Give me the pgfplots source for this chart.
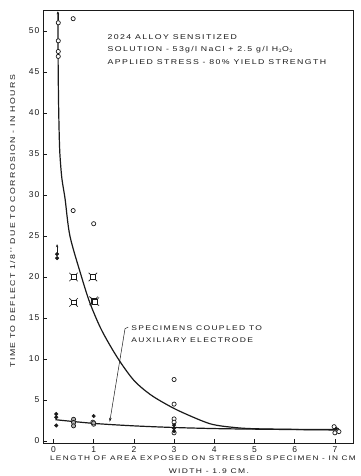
\documentclass[border=0pt]{standalone}
\usepackage{pgfplots}
\pgfplotsset{compat=1.18}
\usepackage{fontspec}
\setmainfont{Liberation Sans}
\newfontfamily\lab[FakeStretch=1.25, LetterSpace=20]{Liberation Sans}
\newfontfamily\tk[LetterSpace=12]{Liberation Sans}
\usetikzlibrary{arrows.meta}
\definecolor{ink}{HTML}{1A1A1A}
\begin{document}
\begin{tikzpicture}
\begin{axis}[
  scale only axis, width=310pt, height=433pt,
  xmin=-0.26, xmax=7.45, ymin=-0.24, ymax=52.56,
  xtick={0,...,7}, ytick={0,5,...,50},
  xtick pos=bottom, ytick pos=left,
  tick align=inside,
  major tick length=4.5pt,
  tick style={ink, line width=0.6pt},
  axis line style={ink, line width=0.8pt},
  ticklabel style={font=\tk\fontsize{8.5}{10}\selectfont, text=ink},
  x tick label style={yshift=-0.5pt},
  /pgf/number format/assume math mode=true,
  clip=false,
]
% upper curve
\addplot[ink, line width=1.2pt, smooth, tension=0.5] coordinates {
 (0.11,52.3) (0.115,47) (0.125,42) (0.14,38) (0.16,35) (0.21,32) (0.29,29.5)
 (0.41,25) (0.70,20) (0.91,16.8) (1.2,13.5) (1.6,10.1) (2.0,7.4) (2.4,5.7)
 (2.8,4.5) (3.2,3.5) (3.9,2.1) (4.5,1.65) (5,1.5) (6,1.42) (7,1.4)};
% lower curve
\addplot[ink, line width=1.2pt, smooth] coordinates {
 (0.05,2.6) (1,2.15) (2,1.85) (3,1.65) (4,1.52) (5,1.45) (7,1.35)};
% open circles
\addplot[only marks, mark=*, mark size=2.1pt, mark options={draw=ink, fill=white, line width=0.7pt}] coordinates {
 (0.12,51.0) (0.12,48.8) (0.12,47.5) (0.12,46.9) (0.49,51.5) (0.49,28.1) (1.0,26.5)
 (3.0,7.5) (3.0,4.5) (3.0,2.7) (3.0,2.3) (3.0,1.0)
 (6.98,1.75) (7.05,1.35) (7.0,1.0) (7.1,1.15) (0.98,2.3) (1.0,2.05)};
% gray circles
\addplot[only marks, mark=*, mark size=2.1pt, mark options={draw=ink, fill=gray!60, line width=0.7pt}] coordinates {
 (0.5,2.65) (0.5,2.25) (0.5,1.85) (1.0,2.2)};
% filled dots
\addplot[only marks, mark=*, mark size=1.8pt, mark options={draw=ink, fill=ink}] coordinates {
 (0.09,22.3) (0.09,22.8) (0.07,3.3) (0.07,2.9) (0.07,1.9) (1.0,3.05)
 (3.0,1.95) (3.0,1.55) (3.0,1.2) (7.03,1.5)};
% crossed squares: corner ticks then square on top
\addplot[only marks, mark=x, mark size=6pt, mark options={draw=ink, line width=0.6pt}] coordinates {
 (0.5,20) (0.5,16.9) (0.98,20) (1.0,17.1) (1.03,17.0)};
\addplot[only marks, mark=square*, mark size=2.4pt, mark options={draw=ink, fill=white, line width=0.7pt}] coordinates {
 (0.5,20) (0.5,16.9) (0.98,20) (1.0,17.1) (1.03,17.0)};
% run-out arrows
\addplot[ink, line width=0.7pt, -{Stealth[length=3pt,width=2.5pt]}, quiver={u=\thisrow{u}, v=\thisrow{v}}] table {
x y u v
0.11 51.4 0 1.0
0.09 22.9 0 1.1
};
% texts
\node[anchor=west, font=\lab\fontsize{7}{8}\selectfont, text=ink] at (axis cs:1.26,49.3) {2024 ALLOY SENSITIZED};
\node[anchor=west, font=\lab\fontsize{7}{8}\selectfont, text=ink] at (axis cs:1.26,47.7) {SOLUTION - 53\,g/l NaCl + 2.5 g/l H$_2$O$_2$};
\node[anchor=west, font=\lab\fontsize{7}{8}\selectfont, text=ink] at (axis cs:1.26,46.2) {APPLIED STRESS - 80\% YIELD STRENGTH};
\node[anchor=west, font=\lab\fontsize{6.8}{8}\selectfont, text=ink] at (axis cs:1.85,13.8) {SPECIMENS COUPLED TO};
\node[anchor=west, font=\lab\fontsize{6.8}{8}\selectfont, text=ink] at (axis cs:1.85,12.3) {AUXILIARY ELECTRODE};
\draw[ink, line width=0.5pt] (axis cs:1.86,13.9) -- (axis cs:1.78,13.7);
\draw[ink, line width=0.5pt, -{Stealth[length=4pt,width=2.5pt]}] (axis cs:1.78,13.7) -- (axis cs:1.40,2.35);
% axis labels
\node[rotate=90, anchor=center, font=\lab\fontsize{7}{9}\selectfont, text=ink] at ([xshift=-30.5pt]rel axis cs:0,0.512) {TIME TO DEFLECT 1/8'' DUE TO CORROSION - IN HOURS};
\node[anchor=center, font=\lab\fontsize{6.6}{9}\selectfont, text=ink] at ([yshift=-15.5pt]rel axis cs:0.516,0) {LENGTH OF AREA EXPOSED ON STRESSED SPECIMEN - IN CM};
\node[anchor=center, font=\lab\fontsize{6.8}{9}\selectfont, text=ink] at ([yshift=-28.5pt]rel axis cs:0.535,0) {WIDTH - 1.9 CM.};
\end{axis}
\pgfresetboundingbox
\path[use as bounding box] (-43pt,-33pt) rectangle (318pt,443pt);
\end{tikzpicture}
\end{document}
